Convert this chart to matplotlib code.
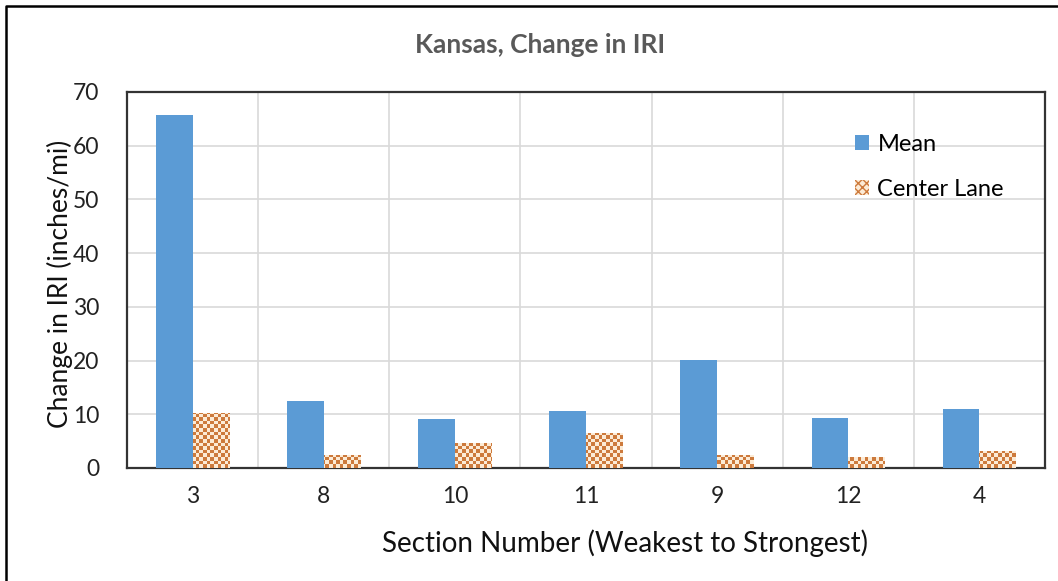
import numpy as np
import matplotlib
matplotlib.use("Agg")
import matplotlib.pyplot as plt
from matplotlib.patches import Patch
from matplotlib.lines import Line2D

plt.rcParams['font.family'] = ['Lato', 'DejaVu Sans']

sections = ['3', '8', '10', '11', '9', '12', '4']
mean_iri = [65.8, 12.4, 9.1, 10.7, 20.1, 9.4, 11.0]
center_lane = [10.2, 2.5, 4.7, 6.6, 2.5, 2.0, 3.1]

blue = '#5B9BD5'
orange = '#CD7A3C'
cream = '#FCEBD6'

fig = plt.figure(figsize=(10.58, 5.81), dpi=100)
ax = fig.add_axes([127/1058, 1 - 468/581, 918/1058, 376/581])

x = np.arange(len(sections))
w = 0.28
ax.bar(x - w/2, mean_iri, w, color=blue, zorder=3, label='Mean')
cl_bars = ax.bar(x + w/2, center_lane, w, color='white', zorder=3, label='Center Lane')

ax.set_xlim(-0.5, len(sections) - 0.5)
ax.set_ylim(0, 70)

# checkerboard fill for the center lane bars (excel pattern fill)
nx, ny = 255, 104
checker = (np.add.outer(np.arange(ny), np.arange(nx)) % 2).astype(float)
cmap = matplotlib.colors.ListedColormap([cream, orange])
for b in cl_bars:
    im = ax.imshow(checker, cmap=cmap, extent=(-0.5, len(sections) - 0.5, 0, 70),
                   aspect='auto', interpolation='nearest', zorder=4, origin='lower')
    im.set_clip_path(b)

ax.set_xticks(x)
ax.set_xticklabels(sections)
ax.set_xticks(np.arange(len(sections) + 1) - 0.5, minor=True)
ax.set_yticks(np.arange(0, 71, 10))
ax.tick_params(axis='both', which='both', length=0, labelsize=16.5, colors='#222222')
ax.tick_params(axis='x', pad=13)
ax.tick_params(axis='y', pad=20)
ax.grid(True, axis='y', which='major', color='#D9D9D9', lw=1.2, zorder=0)
ax.grid(True, axis='x', which='minor', color='#D9D9D9', lw=1.2, zorder=0)
for sp in ax.spines.values():
    sp.set_color('#333333')
    sp.set_linewidth(1.6)

ax.set_ylabel('Change in IRI (inches/mi)', fontsize=19, color='#111111', labelpad=0)
ax.yaxis.label.set_y(0.49)
ax.set_xlabel('Section Number (Weakest to Strongest)', fontsize=20, color='#111111', labelpad=16)
ax.xaxis.label.set_x((625 - 127) / 918)
fig.text(540/1058, 1 - 45/581, 'Kansas, Change in IRI', ha='center', va='center',
         fontsize=19, fontweight='bold', color='#595959')

handles = [Patch(facecolor=blue, edgecolor=blue, lw=0),
           Patch(facecolor=cream, edgecolor=orange, hatch='xxxx', lw=0)]
ax.legend(handles, ['Mean', 'Center Lane'], loc='upper left',
          bbox_to_anchor=((855 - 127) / 918, (468 - 134) / 376), frameon=False,
          fontsize=17, handlelength=0.6, handleheight=0.6, handletextpad=0.35,
          labelspacing=1.0, borderpad=0, borderaxespad=0)

# outer chart frame (left and top edges visible)
fx = 6 / 1058
fy = 1 - 6 / 581
fig.add_artist(Line2D([fx, fx, 1], [0, fy, fy], transform=fig.transFigure,
                      color='black', lw=1.8))

fig.savefig('out.png', dpi=100)
